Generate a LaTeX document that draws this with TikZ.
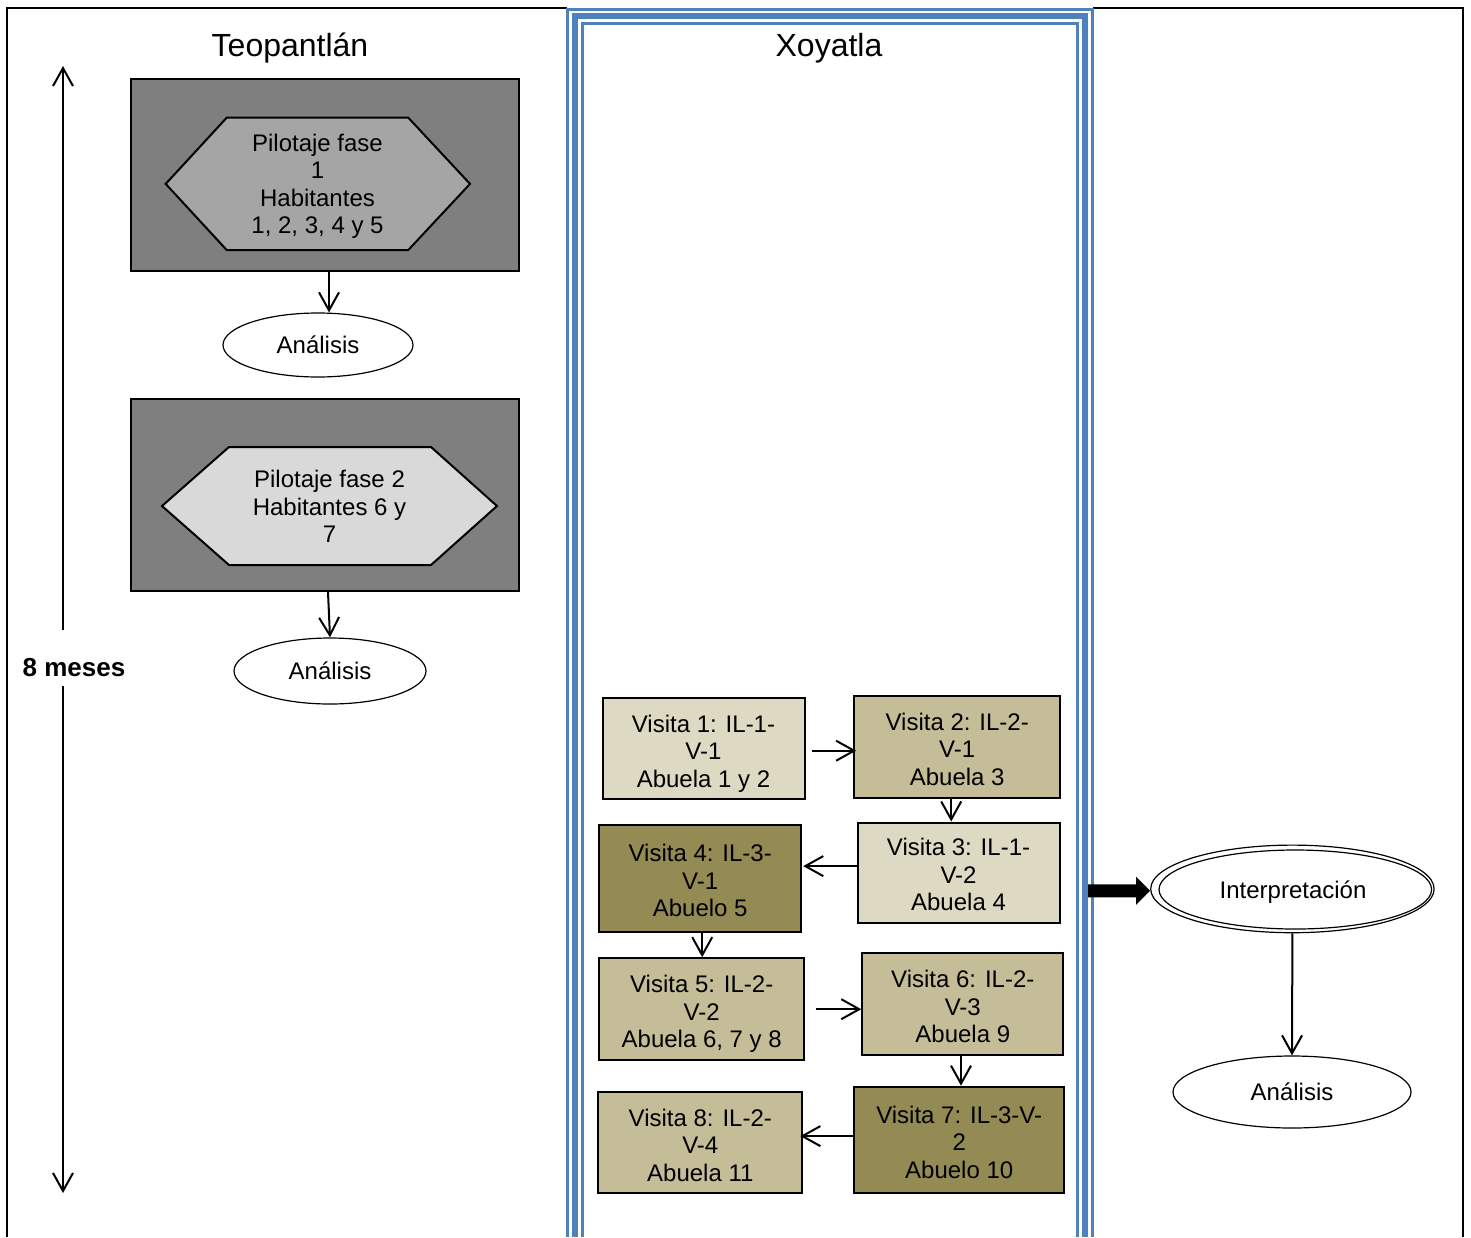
\documentclass[tikz,border=0pt]{standalone}
\usepackage{fontspec}
\setmainfont{Liberation Sans}
\usetikzlibrary{arrows.meta,shapes.geometric}

\definecolor{outerbox}{HTML}{7F7F7F}
\definecolor{hexdark}{HTML}{A5A5A5}
\definecolor{hexlight}{HTML}{D9D9D9}
\definecolor{tanlight}{HTML}{DDD9C3}
\definecolor{tanmid}{HTML}{C4BD97}
\definecolor{tandark}{HTML}{948A54}
\definecolor{laneblue}{HTML}{4F81BD}

\newcommand{\bodyfont}{\fontsize{12}{13.75}\selectfont}
% struts that give every multi-line label the same first-line height and last-line depth
\newcommand{\firststrut}{\rule{0pt}{13.9pt}}
\newcommand{\laststrut}{\rule[-3pt]{0pt}{3pt}}

\begin{document}
\begin{tikzpicture}[x=0.5pt,y=-0.5pt,
  every node/.style={inner sep=0pt, text=black},
  phasebox/.style={draw, line width=1pt, fill=outerbox},
  hexa/.style={draw, line width=1pt, line join=miter},
  lines/.style={align=center, font=\bodyfont},
  visit/.style={lines, draw, line width=1pt},
  result/.style={ellipse, draw, line width=0.6pt, fill=white, font=\bodyfont},
  arr/.style={line width=1pt, -{Straight Barb[length=9pt,width=10pt,line width=1pt]}},
  lanetitle/.style={font=\fontsize{16}{19}\selectfont},
  lanerule/.style={draw=laneblue, line join=miter}
]
\useasboundingbox (0,0) rectangle (1471,1237);

% outer table frame
\draw[line width=1pt] (7,1237) -- (7,7.7) -- (567,7.7);
\draw[line width=1pt] (1093,7.7) -- (1462.5,7.7) -- (1462.5,1237);

% triple blue rule round the middle lane
\draw[lanerule, line width=1.5pt] (567.7,1237) -- (567.7,9.3) -- (1092.5,9.3) -- (1092.5,1237);
\draw[lanerule, line width=3pt]   (574.8,1237) -- (574.8,16.2) -- (1085.2,16.2) -- (1085.2,1237);
\draw[lanerule, line width=1.5pt] (582.3,1237) -- (582.3,23.3) -- (1077.7,23.3) -- (1077.7,1237);

% lane titles
\node[lanetitle] (tTeo) at (290,48) {Teopantlán};
\node[lanetitle] (tXoy) at (829,48) {Xoyatla};

% time span on the left
\coordinate (spanTop) at (63,66);
\coordinate (spanBot) at (63,1193);
\coordinate (spanA) at (63,630);
\coordinate (spanB) at (63,686);
\node[font=\fontsize{13}{15}\selectfont\bfseries] (span) at (74,668) {8 meses};
\draw[arr] (spanA) -- (spanTop);
\draw[arr] (spanB) -- (spanBot);

% pilot phase 1
\node[phasebox, minimum width=194pt, minimum height=96pt] (box1) at (325,175) {};
\draw[hexa, fill=hexdark] (165.7,183.9) -- (226.7,117.7) -- (408.3,117.7) -- (470,183.9)
   -- (408.3,250) -- (226.7,250) -- cycle;
\node[lines] (hex1) at (317.5,181.7)
   {\firststrut Pilotaje fase\\1\\Habitantes\\1, 2, 3, 4 y 5\laststrut};
\node[result, minimum width=95pt, minimum height=32pt] (an1) at (318,345) {Análisis};
\draw[arr] ([xshift=2pt]box1.south) -- ([xshift=2pt]box1.south |- an1.north);

% pilot phase 2
\node[phasebox, minimum width=194pt, minimum height=96pt] (box2) at (325,495) {};
\draw[hexa, fill=hexlight] (162,506) -- (229,447) -- (431,447) -- (497,506)
   -- (431,565) -- (229,565) -- cycle;
\node[lines] (hex2) at (329.5,504.2)
   {\firststrut Pilotaje fase 2\\Habitantes 6 y\\7\laststrut};
\node[result, minimum width=96pt, minimum height=33pt] (an2) at (330,671) {Análisis};
\draw[arr] ([xshift=1.5pt]box2.south) -- (an2.north);

% visits in Xoyatla
\node[visit, fill=tanlight, minimum width=101pt, minimum height=50.5pt] (v1) at (703.5,748.7)
   {\firststrut Visita 1: IL-1-\\V-1\\Abuela 1 y 2\laststrut};
\node[visit, fill=tanmid, minimum width=103pt, minimum height=51pt] (v2) at (957.2,747)
   {\firststrut Visita 2: IL-2-\\V-1\\Abuela 3\laststrut};
\node[visit, fill=tanlight, minimum width=101pt, minimum height=50pt] (v3) at (958.5,872.5)
   {\firststrut Visita 3: IL-1-\\V-2\\Abuela 4\laststrut};
\node[visit, fill=tandark, minimum width=101pt, minimum height=53.5pt] (v4) at (700.2,878.4)
   {\firststrut Visita 4: IL-3-\\V-1\\Abuelo 5\laststrut};
\node[visit, fill=tanmid, minimum width=102.5pt, minimum height=51pt] (v5) at (701.7,1009.2)
   {\firststrut Visita 5: IL-2-\\V-2\\Abuela 6, 7 y 8\laststrut};
\node[visit, fill=tanmid, minimum width=100.5pt, minimum height=51pt] (v6) at (962.8,1004.2)
   {\firststrut Visita 6: IL-2-\\V-3\\Abuela 9\laststrut};
\node[visit, fill=tandark, minimum width=105pt, minimum height=53pt] (v7) at (959.2,1139.7)
   {\firststrut Visita 7: IL-3-V-\\2\\Abuelo 10\laststrut};
\node[visit, fill=tanmid, minimum width=102pt, minimum height=50.5pt] (v8) at (700.3,1142.8)
   {\firststrut Visita 8: IL-2-\\V-4\\Abuela 11\laststrut};

\draw[arr] ([xshift=3pt,yshift=-1pt]v1.east) -- ([yshift=-1pt,xshift=1.5pt]v1.east -| v2.west);
\draw[arr] ([xshift=-3pt]v2.south) -- ([xshift=-3pt]v2.south |- v3.north);
\draw[arr] ([yshift=3.2pt]v3.west) -- ([yshift=3.2pt,xshift=0.5pt]v3.west -| v4.east);
\draw[arr] ([xshift=1pt]v4.south) -- ([xshift=1pt]v4.south |- v5.north);
\draw[arr] ([xshift=5.5pt]v5.east) -- (v5.east -| v6.west);
\draw[arr] ([xshift=-0.9pt]v6.south) -- ([xshift=-0.9pt]v6.south |- v7.north);
\draw[arr] ([yshift=1.8pt]v7.west) -- ([yshift=1.8pt,xshift=-1.5pt]v7.west -| v8.east);

% interpretation and final analysis
\node[ellipse, draw, line width=0.6pt, minimum width=141.7pt, minimum height=43.8pt]
   (interp) at (1292.4,888.9) {};
\node[ellipse, draw, line width=0.6pt, minimum width=136.3pt, minimum height=39.5pt]
   (interpIn) at (1295.3,889.5) {};
\node[font=\bodyfont] (interpText) at (1293,892) {Interpretación};

% block arrow from the Xoyatla lane to the interpretation
\coordinate (laneOut) at (1088,890.8);
\coordinate (laneTip) at (interp.west |- laneOut);
\fill (laneOut) ++(0,-6.5) -- ([xshift=-7pt,yshift=3.25pt]laneTip)
   -- ([xshift=-7pt,yshift=7pt]laneTip) -- (laneTip)
   -- ([xshift=-7pt,yshift=-7pt]laneTip) -- ([xshift=-7pt,yshift=-3.25pt]laneTip)
   -- ([yshift=-3.25pt]laneOut) -- cycle;

\node[result, minimum width=119pt, minimum height=36pt] (an3) at (1292,1092) {Análisis};
\draw[arr] (interp.south) -- (an3.north);

\end{tikzpicture}
\end{document}
